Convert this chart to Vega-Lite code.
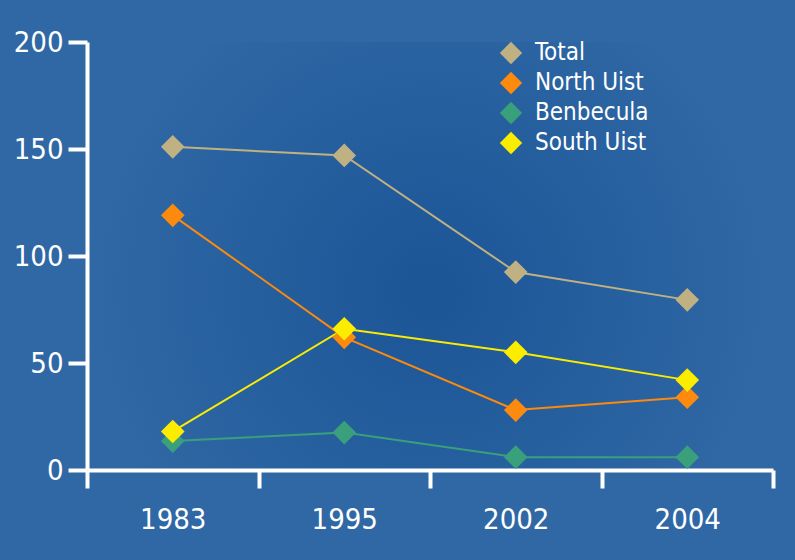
{
  "$schema": "https://vega.github.io/schema/vega-lite/v6.json",
  "width": 686,
  "height": 428,
  "autosize": {"type": "none"},
  "padding": {"left": 87, "top": 42, "right": 22, "bottom": 90},
  "background": "#3068a5",
  "config": {
    "view": {"stroke": null, "fill": {"gradient": "radial", "x1": 0.5, "y1": 0.55, "r1": 0, "x2": 0.5, "y2": 0.55, "r2": 0.5, "stops": [{"offset": 0, "color": "#1b5596"}, {"offset": 1, "color": "#3068a5"}]}},
    "font": "DejaVu Sans Condensed, Liberation Sans, sans-serif",
    "axis": {"labelFont": "DejaVu Sans Condensed, Liberation Sans, sans-serif", "labelColor": "#ffffff", "domainColor": "#ffffff", "tickColor": "#ffffff", "grid": false, "title": null}
  },
  "data": {
    "values": [
      {"Year": "1983", "Area": "Total", "Value": 151},
      {"Year": "1995", "Area": "Total", "Value": 147},
      {"Year": "2002", "Area": "Total", "Value": 92.5},
      {"Year": "2004", "Area": "Total", "Value": 79.5},
      {"Year": "1983", "Area": "North Uist", "Value": 119},
      {"Year": "1995", "Area": "North Uist", "Value": 62},
      {"Year": "2002", "Area": "North Uist", "Value": 28},
      {"Year": "2004", "Area": "North Uist", "Value": 34},
      {"Year": "1983", "Area": "Benbecula", "Value": 13.5},
      {"Year": "1995", "Area": "Benbecula", "Value": 17.5},
      {"Year": "2002", "Area": "Benbecula", "Value": 6},
      {"Year": "2004", "Area": "Benbecula", "Value": 6},
      {"Year": "1983", "Area": "South Uist", "Value": 18},
      {"Year": "1995", "Area": "South Uist", "Value": 66},
      {"Year": "2002", "Area": "South Uist", "Value": 55},
      {"Year": "2004", "Area": "South Uist", "Value": 42}
    ]
  },
  "encoding": {
    "x": {
      "field": "Year", "type": "ordinal",
      "scale": {"type": "band", "paddingInner": 0, "paddingOuter": 0},
      "axis": {"labelAngle": 0, "tickBand": "extent", "tickSize": 18, "tickWidth": 4, "domainWidth": 4, "labelFontSize": 29, "labelPadding": 17}
    },
    "y": {
      "field": "Value", "type": "quantitative",
      "scale": {"domain": [0, 200], "nice": false},
      "axis": {"values": [0, 50, 100, 150, 200], "tickSize": 19, "tickWidth": 4, "domainWidth": 4, "labelFontSize": 29, "labelPadding": 5}
    },
    "color": {
      "field": "Area", "type": "nominal",
      "scale": {"domain": ["Total", "North Uist", "Benbecula", "South Uist"], "range": ["#c0b183", "#fb8a0e", "#3aa07c", "#fcec00"]},
      "legend": {
        "orient": "none", "legendX": 412, "legendY": -1, "title": null,
        "symbolType": "diamond", "symbolSize": 500, "symbolStrokeWidth": 0, "symbolOpacity": 1,
        "labelFont": "DejaVu Sans Condensed, Liberation Sans, sans-serif", "labelFontSize": 24, "labelColor": "#ffffff",
        "labelOffset": 12, "rowPadding": 6
      }
    }
  },
  "layer": [
    {"mark": {"type": "line", "strokeWidth": 2}},
    {"mark": {"type": "point", "shape": "diamond", "size": 560, "filled": true, "opacity": 1}}
  ]
}
